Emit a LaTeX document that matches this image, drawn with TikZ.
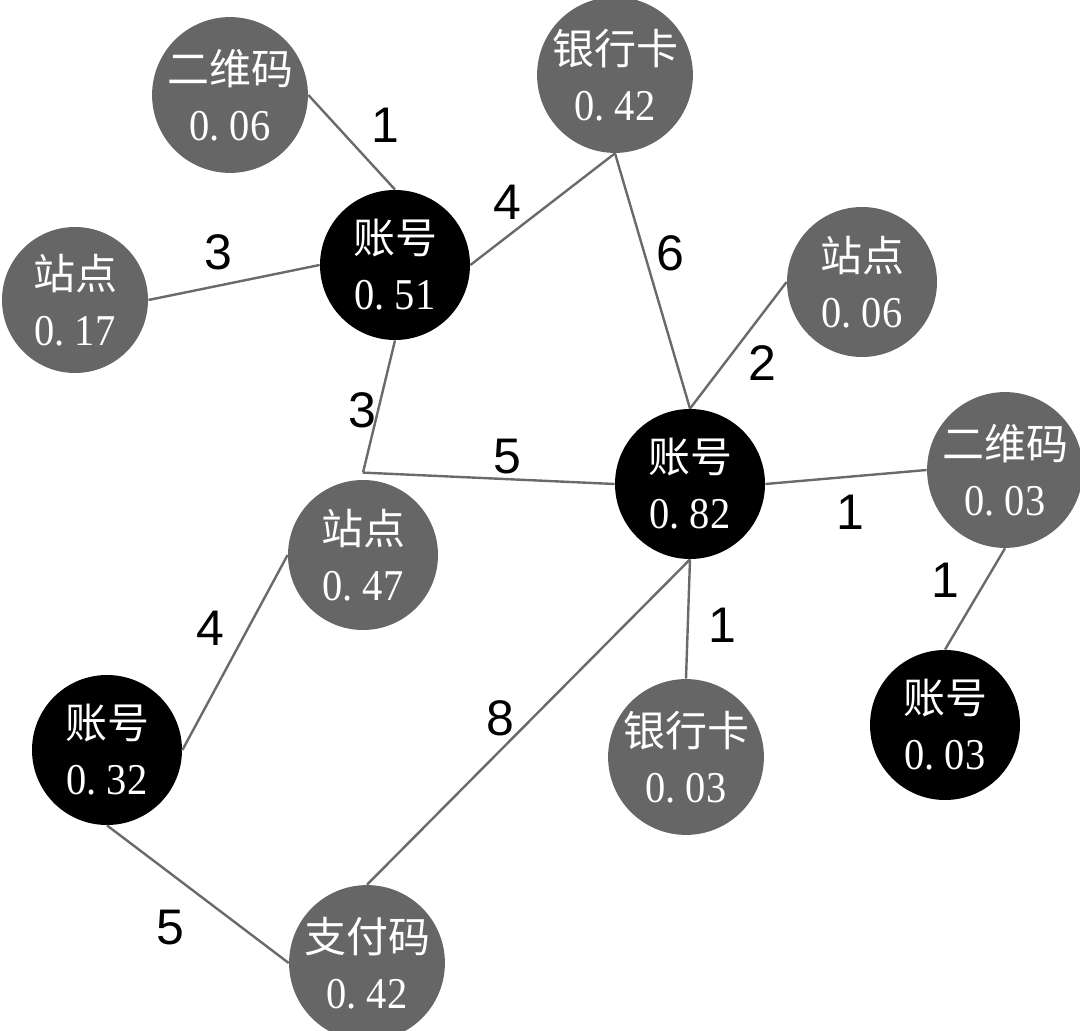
\documentclass[tikz,border=0pt]{standalone}
\usepackage{fontspec}
\newfontfamily\cjk{Noto Sans CJK SC}
\newfontfamily\digitfont[FakeStretch=0.92]{Liberation Serif}
\newfontfamily\labelfont{Liberation Sans}
\definecolor{nodegray}{HTML}{666666}
\definecolor{linegray}{HTML}{6A6A6A}
\tikzset{
  basenode/.style={circle, minimum size=75pt, inner sep=0pt, text=white, align=center,
    font=\fontsize{21}{25}\selectfont},
  graynode/.style={basenode, fill=nodegray},
  blacknode/.style={basenode, fill=black},
  edge/.style={draw=linegray, line width=1.2pt},
  wlabel/.style={inner sep=0pt, font=\labelfont\fontsize{25}{25}\selectfont, text=black}
}
\newcommand{\numtxt}[2]{#1.\hspace{5pt}#2}
\newcommand{\nodetxt}[3]{{\cjk #1}\\[3pt]{\digitfont\fontsize{22}{25}\selectfont\numtxt{#2}{#3}}}
\begin{document}
\begin{tikzpicture}[x=0.5pt,y=-0.5pt]
\useasboundingbox (0,0) rectangle (1080,1031);
% nodes
\node[graynode]  (n1)  at (230,95)  {\nodetxt{二维码}{0}{06}};
\node[graynode]  (n2)  at (615,75)  {\nodetxt{银行卡}{0}{42}};
\node[blacknode] (n3)  at (395,265) {\nodetxt{账号}{0}{51}};
\node[graynode, minimum size=73pt]  (n4)  at (75,300)  {\nodetxt{站点}{0}{17}};
\node[graynode]  (n5)  at (862,282) {\nodetxt{站点}{0}{06}};
\node[blacknode] (n6)  at (690,484) {\nodetxt{账号}{0}{82}};
\node[graynode]  (n7)  at (1005,470) {\nodetxt{二维码}{0}{03}};
\node[graynode]  (n8)  at (363,555) {\nodetxt{站点}{0}{47}};
\node[blacknode] (n9)  at (107,750) {\nodetxt{账号}{0}{32}};
\node[graynode]  (n10) at (686,757) {\nodetxt{银行卡}{0}{03}};
\node[blacknode] (n11) at (945,725) {\nodetxt{账号}{0}{03}};
\node[graynode]  (n12) at (367,963) {\nodetxt{支付码}{0}{42}};
% junction above n8
\coordinate (j8) at ([yshift=3.5pt]n8.north);
% edges
\draw[edge] (n1.east) -- (n3.north);
\draw[edge] (n4.east) -- (n3.west);
\draw[edge] (n3.east) -- (n2.south);
\draw[edge] (n2.south) -- (n6.north);
\draw[edge] (n5.west) -- (n6.north);
\draw[edge] (n3.south) -- (j8);
\draw[edge] (j8) -- (n6.west);
\draw[edge] (n6.east) -- (n7.west);
\draw[edge] (n7.south) -- (n11.north);
\draw[edge] (n6.south) -- (n10.north);
\draw[edge] (n6.south) -- (n12.north);
\draw[edge] (n8.west) -- (n9.east);
\draw[edge] (n9.south) -- (n12.west);
% edge labels
\node[wlabel] (l1)  at (385,125) {1};
\node[wlabel] (l2)  at (507,202) {4};
\node[wlabel] (l3)  at (218,252) {3};
\node[wlabel] (l4)  at (670,253) {6};
\node[wlabel] (l5)  at (762,363) {2};
\node[wlabel] (l6)  at (362,410) {3};
\node[wlabel] (l7)  at (507,457) {5};
\node[wlabel] (l8)  at (850,512) {1};
\node[wlabel] (l9)  at (945,580) {1};
\node[wlabel] (l10) at (722,625) {1};
\node[wlabel] (l11) at (210,628) {4};
\node[wlabel] (l12) at (500,718) {8};
\node[wlabel] (l13) at (170,928) {5};
\end{tikzpicture}
\end{document}
